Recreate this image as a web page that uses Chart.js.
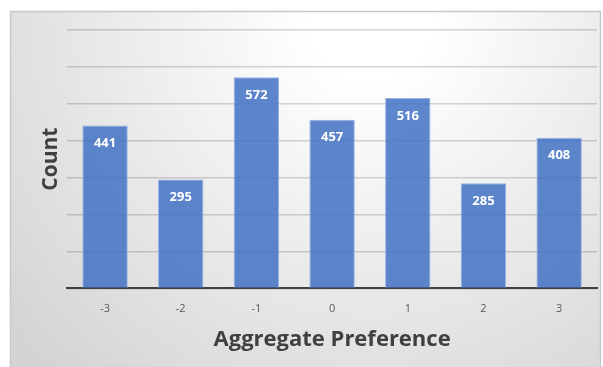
<!DOCTYPE html>
<html>
<head>
<meta charset="utf-8">
<script src="https://cdn.jsdelivr.net/npm/chart.js@4/dist/chart.umd.min.js"></script>
<style>
  html, body { margin: 0; padding: 0; background: #ffffff; }
  #wrap { width: 603px; height: 367px; position: relative; }
</style>
</head>
<body>
<div id="wrap"><canvas id="prefChart"></canvas></div>
<script>
// Datos del gráfico
const categories = ['-3', '-2', '-1', '0', '1', '2', '3'];
const counts = [441, 295, 572, 457, 516, 285, 408];
const yMax = 700;
const yStep = 100;

// Fondo con degradado y marco
const backgroundBox = {
    id: 'backgroundBox',
    beforeDraw(chart) {
        const ctx = chart.ctx;
        ctx.save();
        ctx.fillStyle = '#ffffff';
        ctx.fillRect(0, 0, chart.width, chart.height);
        const g = ctx.createRadialGradient(370, 20, 60, 370, 20, 470);
        g.addColorStop(0, '#ffffff');
        g.addColorStop(1, '#d4d4d4');
        ctx.fillStyle = g;
        ctx.fillRect(10, 11, 591, 360);
        ctx.strokeStyle = '#c8c8c8';
        ctx.lineWidth = 1.5;
        ctx.strokeRect(10.5, 11.5, 590, 360);
        ctx.restore();
    }
};

// Etiquetas blancas dentro de las barras
const barLabels = {
    id: 'barLabels',
    afterDatasetsDraw(chart) {
        const ctx = chart.ctx;
        const meta = chart.getDatasetMeta(0);
        ctx.save();
        ctx.fillStyle = '#ffffff';
        ctx.font = 'bold 13px "Open Sans"';
        ctx.textAlign = 'center';
        ctx.textBaseline = 'middle';
        meta.data.forEach((bar, i) => {
            ctx.fillText(String(counts[i]), bar.x, bar.y + 18);
        });
        ctx.restore();
    }
};

new Chart(document.getElementById('prefChart'), {
    type: 'bar',
    data: {
        labels: categories,
        datasets: [{
            label: 'Count',
            data: counts,
            backgroundColor: 'rgba(68, 114, 196, 0.86)',
            borderColor: 'rgba(150, 178, 228, 1)',
            borderWidth: 1,
            categoryPercentage: 1.0,
            barPercentage: 0.6
        }]
    },
    options: {
        responsive: true,
        maintainAspectRatio: false,
        animation: false,
        layout: {
            padding: { left: 34, right: 6, top: 30, bottom: 11 }
        },
        plugins: {
            legend: { display: false },
            tooltip: { enabled: false }
        },
        scales: {
            x: {
                grid: { display: false },
                border: { display: true, color: '#404040', width: 2 },
                ticks: {
                    color: '#595959',
                    padding: 6,
                    font: { family: '"Open Sans"', size: 11 }
                },
                title: {
                    display: true,
                    text: 'Aggregate Preference',
                    color: '#404040',
                    padding: { top: 5, bottom: 3 },
                    font: { family: '"Open Sans"', size: 22, weight: 'bold' }
                }
            },
            y: {
                min: 0,
                max: yMax,
                ticks: { display: false, stepSize: yStep },
                grid: {
                    color: 'rgba(0, 0, 0, 0.16)',
                    lineWidth: 1.5,
                    drawTicks: false
                },
                border: { display: false },
                title: {
                    display: true,
                    text: 'Count',
                    color: '#404040',
                    padding: { top: 4, bottom: 4 },
                    font: { family: '"Open Sans"', size: 21, weight: 'bold' }
                }
            }
        }
    },
    plugins: [backgroundBox, barLabels]
});
</script>
</body>
</html>
